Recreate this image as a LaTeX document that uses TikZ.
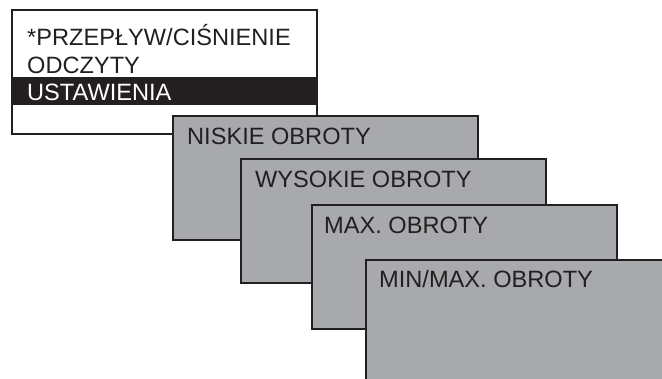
\documentclass[tikz,border=0pt]{standalone}
\usepackage{fontspec}
\setmainfont{Liberation Sans}
\usetikzlibrary{calc}
\definecolor{panelgray}{HTML}{A8A9AC}
\definecolor{ink}{HTML}{231F20}
\tikzset{
  panel/.style={draw=ink, line width=2pt, fill=panelgray, anchor=north west,
    minimum width=305pt, minimum height=124pt, inner sep=0pt, outer sep=0pt},
  menu/.style={panel, fill=white},
  caption/.style={anchor=base west, inner sep=0pt, text=ink,
    font=\fontsize{23.6}{28}\selectfont},
}
\begin{document}
\begin{tikzpicture}[x=1pt, y=-1pt]
  \useasboundingbox (0,0) rectangle (662,378);
  \clip (0,0) rectangle (662,378);
  % main menu
  \node[menu] (m0) at (12,10) {};
  \fill[ink] ($(m0.north west)+(0,67)$) coordinate (hl) rectangle ($(m0.north east)+(0,95)$);
  \draw[ink, line width=2pt] (m0.north west) rectangle (m0.south east);
  \node[caption] (t0a) at ($(m0.north west)+(15,35)$) {*PRZEPŁYW/CIŚNIENIE};
  \node[caption] (t0b) at ($(m0.north west)+(15,63)$) {ODCZYTY};
  \node[caption, text=white] (t0c) at ($(m0.north west)+(15,90)$) {USTAWIENIA};
  % settings submenus, stacked
  \node[panel] (m1) at (173,116) {};
  \node[caption] (t1) at ($(m1.north west)+(14,28)$) {NISKIE OBROTY};
  \node[panel] (m2) at (241,159) {};
  \node[caption] (t2) at ($(m2.north west)+(14,28)$) {WYSOKIE OBROTY};
  \node[panel] (m3) at (312,205) {};
  \node[caption] (t3) at ($(m3.north west)+(12,28)$) {MAX. OBROTY};
  \node[panel] (m4) at (366,260) {};
  \node[caption] (t4) at ($(m4.north west)+(13,27)$) {MIN/MAX. OBROTY};
\end{tikzpicture}
\end{document}
